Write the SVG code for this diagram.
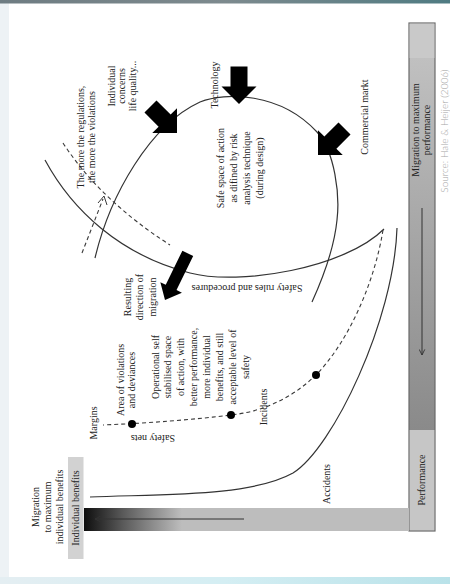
<svg xmlns="http://www.w3.org/2000/svg" width="450" height="584" viewBox="0 0 450 584">
<defs>
<linearGradient id="topband" x1="0" y1="0" x2="1" y2="0">
<stop offset="0" stop-color="#6e7c82"/><stop offset="0.5" stop-color="#7d8a8e"/><stop offset="1" stop-color="#4f7b82"/>
</linearGradient>
<linearGradient id="botband" x1="0" y1="0" x2="1" y2="0">
<stop offset="0" stop-color="#e4eef2"/><stop offset="0.5" stop-color="#d4eef3"/><stop offset="1" stop-color="#b9e2e9"/>
</linearGradient>
<linearGradient id="hbar" x1="84" y1="0" x2="410" y2="0" gradientUnits="userSpaceOnUse">
<stop offset="0" stop-color="#0e0e0e"/><stop offset="0.12" stop-color="#5a5a5a"/><stop offset="0.3" stop-color="#bdbdbd"/><stop offset="1" stop-color="#bdbdbd"/>
</linearGradient>
<linearGradient id="vbar" x1="0" y1="58" x2="0" y2="430" gradientUnits="userSpaceOnUse">
<stop offset="0" stop-color="#c0c0c0"/><stop offset="1" stop-color="#8a8a8a"/>
</linearGradient>
<marker id="chev" viewBox="0 0 10 10" refX="9" refY="5" markerWidth="7" markerHeight="7" orient="auto">
<path d="M1,1 L9,5 L1,9" fill="none" stroke="#333" stroke-width="1.3"/>
</marker>
<polygon id="blk" points="-37.5,-8.5 -17.5,-8.5 -17.5,-17.5 0,0 -17.5,17.5 -17.5,8.5 -37.5,8.5"/>
</defs>
<style>
.t{font-family:"Liberation Serif","Times New Roman",serif;font-size:10px;fill:#222;text-anchor:middle}
.c{fill:none;stroke:#333;stroke-width:1.2}
.d{fill:none;stroke:#3a3a3a;stroke-width:1.1;stroke-dasharray:4 3}
.dot{fill:#000}
</style>
<rect x="0" y="0" width="450" height="584" fill="#ffffff"/>
<rect x="0" y="0" width="9" height="584" fill="#edf2f5"/>
<rect x="0" y="0" width="450" height="3.5" fill="url(#topband)"/>
<rect x="0" y="577" width="450" height="7" fill="url(#botband)"/>

<g id="bar-performance">
<rect x="409" y="23" width="26" height="508" fill="url(#vbar)" stroke="#6a6a6a" stroke-width="1.2"/>
<rect x="409.6" y="23.6" width="24.8" height="34.4" fill="#c9c9c9"/>
<rect x="409.6" y="430" width="24.8" height="100.4" fill="#c6c6c6"/>
<text class="t" transform="translate(418.5,130) rotate(-90)"><tspan x="0" y="0">Migration to maximum</tspan><tspan x="0" y="11">performance</tspan></text>
<text class="t" transform="translate(425,480) rotate(-90)">Performance</text>
</g>
<g id="bar-benefits">
<rect x="84" y="508" width="325" height="23" fill="url(#hbar)"/>
<rect x="68" y="457" width="15.5" height="102" fill="#d2d2d2"/>
<text class="t" transform="translate(78.5,508) rotate(-90)">Individual benefits</text>
</g>
<g id="label-migration-benefits">
<text class="t" transform="translate(39,507) rotate(-90)"><tspan x="0" y="0">Migration</tspan><tspan x="0" y="12">to maximum</tspan><tspan x="0" y="24">individual benefits</tspan></text>
</g>

<g id="connectors">
<path class="c" d="M95,258 C110,195 150,125 200,102 C225,92 280,92 317,132 C335,152 340,195 337,220 C334,250 322,280 312,302"/>
<path class="c" d="M45,160 C72,210 120,255 190,273 C240,286 345,268 384,229"/>
<path class="c" d="M397,228 C394,320 333,448 293,473 C250,497 160,494 90,497"/>
<path class="d" d="M383,230 C375,280 350,340 316,375 C290,400 260,412 231,415 C190,420 150,423 103,425"/>
<path class="d" d="M63,143 Q100,200 170,245"/>
<path class="d" d="M82,253 L103,199"/>
<path d="M98,203 L104,196 L107,205" fill="none" stroke="#3a3a3a" stroke-width="1"/>
<line x1="422" y1="208" x2="422" y2="355" stroke="#333" stroke-width="1" marker-end="url(#chev)"/>
<line x1="244" y1="519" x2="95" y2="519" stroke="#333" stroke-width="1" marker-end="url(#chev)"/>
<circle class="dot" cx="316" cy="375" r="4"/>
<circle class="dot" cx="231" cy="415" r="4"/>
<circle class="dot" cx="132" cy="424" r="4"/>
<use href="#blk" transform="translate(239,104) rotate(90)"/>
<use href="#blk" transform="translate(177,133) rotate(45)"/>
<use href="#blk" transform="translate(318,155) rotate(135)"/>
<polygon points="-52,-6 -14,-6 -14,-12 0,0 -14,12 -14,6 -52,6" transform="translate(165,300) rotate(116)"/>
</g>

<g id="label-regulations"><text class="t" transform="translate(83.5,137) rotate(-90)"><tspan x="0" y="0">The more the regulations,</tspan><tspan x="0" y="11">the more the violations</tspan></text></g>
<g id="label-individual-concerns"><text class="t" transform="translate(114.5,86) rotate(-90)"><tspan x="0" y="0">Individual</tspan><tspan x="0" y="10.5">concerns</tspan><tspan x="0" y="21">life quality...</tspan></text></g>
<g id="label-technology"><text class="t" transform="translate(217.5,85) rotate(-90)">Technology</text></g>
<g id="label-commercial"><text class="t" transform="translate(367.5,117) rotate(-90)">Commercial markt</text></g>
<g id="label-safe-space"><text class="t" transform="translate(223.5,168) rotate(-90)"><tspan x="0" y="0">Safe space of action</tspan><tspan x="0" y="13.3">as difined by risk</tspan><tspan x="0" y="26.6">analysis technique</tspan><tspan x="0" y="39.9">(during design)</tspan></text></g>
<g id="label-resulting"><text class="t" transform="translate(130.5,297) rotate(-90)"><tspan x="0" y="0">Resulting</tspan><tspan x="0" y="12.5">direction of</tspan><tspan x="0" y="25">migration</tspan></text></g>
<g id="label-safety-rules"><text class="t" transform="translate(247,285) rotate(180)">Safety rules and procedures</text></g>
<g id="label-area-violations"><text class="t" transform="translate(123.5,380) rotate(-90)"><tspan x="0" y="0">Area of violations</tspan><tspan x="0" y="11.5">and deviances</tspan></text></g>
<g id="label-operational"><text class="t" transform="translate(158.5,367) rotate(-90)"><tspan x="0" y="0">Operational self</tspan><tspan x="0" y="12.9">stabilised space</tspan><tspan x="0" y="25.8">of action, with</tspan><tspan x="0" y="38.7">better performance,</tspan><tspan x="0" y="51.6">more individual</tspan><tspan x="0" y="64.5">benefits, and still</tspan><tspan x="0" y="77.4">acceptable level of</tspan><tspan x="0" y="90.3">safety</tspan></text></g>
<g id="label-margins"><text class="t" transform="translate(96.5,423) rotate(-90)">Margins</text></g>
<g id="label-safety-nets"><text class="t" transform="translate(153,435) rotate(180)">Safety nets</text></g>
<g id="label-incidents"><text class="t" transform="translate(267,407) rotate(-90)">Incidents</text></g>
<g id="label-accidents"><text class="t" transform="translate(329.5,484) rotate(-90)">Accidents</text></g>
<g id="label-source"><text transform="translate(447.5,131) rotate(-90)" style="font-family:Lato,'Open Sans',sans-serif;font-size:10px;font-weight:300;fill:#a5a5a5;text-anchor:middle">Source: Hale &amp; Heijer (2006)</text></g>
</svg>
